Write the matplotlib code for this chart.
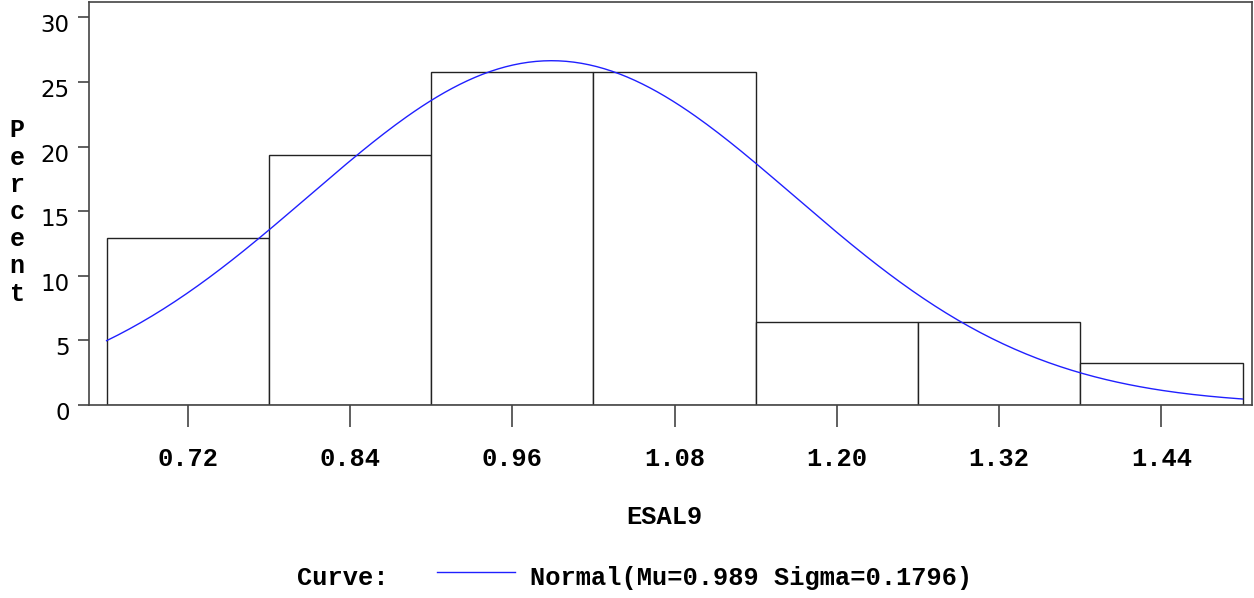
import numpy as np
import matplotlib
matplotlib.use("Agg")
import matplotlib.pyplot as plt
import matplotlib.transforms as mtransforms

# histogram of ESAL9, percent per bin
midpoints = [0.72, 0.84, 0.96, 1.08, 1.20, 1.32, 1.44]
percents = [12.90, 19.35, 25.81, 25.81, 6.45, 6.45, 3.23]
bin_width = 0.12

# fitted normal from the legend
mu = 0.989
sigma = 0.1796

mono = "Liberation Mono"
sans = "DejaVu Sans"

fig = plt.figure(figsize=(12.54, 5.98), dpi=100)
ax = fig.add_axes([89 / 1254, 1 - 405 / 598, (1252 - 89) / 1254, (405 - 2) / 598])

ax.bar(midpoints, percents, width=bin_width, facecolor="white",
       edgecolor="#222222", linewidth=1.0, zorder=2)

lo = midpoints[0] - bin_width / 2
hi = midpoints[-1] + bin_width / 2
xs = np.linspace(lo, hi, 300)
ys = 100 * bin_width * np.exp(-0.5 * ((xs - mu) / sigma) ** 2) / (sigma * np.sqrt(2 * np.pi))
ax.plot(xs, ys, color="#2020ff", linewidth=1.0, zorder=3)

ax.set_xlim(0.647, 1.507)
ax.set_ylim(0, 31.2)
ax.set_xticks(midpoints)
ax.set_xticklabels([f"{m:.2f}" for m in midpoints], fontfamily=mono,
                   fontweight="bold", fontsize=18.3)
ax.set_yticks(range(0, 31, 5))
ax.set_yticklabels([str(v) for v in range(0, 31, 5)], fontfamily=sans, fontsize=16.5)
ax.tick_params(axis="x", length=16, width=1.2, pad=14, color="#444444")
ax.tick_params(axis="y", length=8, width=1.2, pad=6, color="#444444")
for s in ax.spines.values():
    s.set_color("#444444")
    s.set_linewidth(1.2)

# y labels sit a little below their ticks
shift = mtransforms.ScaledTranslation(0, -0.06, fig.dpi_scale_trans)
for lab in ax.get_yticklabels():
    lab.set_transform(lab.get_transform() + shift)

fig.text(17 / 1254, 1 - 212 / 598, "P\ne\nr\nc\ne\nn\nt", fontfamily=mono,
         fontweight="bold", fontsize=18, ha="center", va="center", linespacing=1.17)
fig.text(664 / 1254, 1 - 517 / 598, "ESAL9", fontfamily=mono, fontweight="bold",
         fontsize=18.3, ha="center", va="center")

fig.text(297 / 1254, 1 - 578 / 598, "Curve:", fontfamily=mono, fontweight="bold",
         fontsize=18.3, ha="left", va="center")
fig.add_artist(plt.Line2D([437 / 1254, 515 / 1254], [1 - 572 / 598, 1 - 572 / 598],
                          color="#2020ff", linewidth=1.0))
fig.text(530 / 1254, 1 - 578 / 598, f"Normal(Mu={mu} Sigma={sigma})", fontfamily=mono,
         fontweight="bold", fontsize=18.3, ha="left", va="center")

fig.savefig("out.png", dpi=100)
